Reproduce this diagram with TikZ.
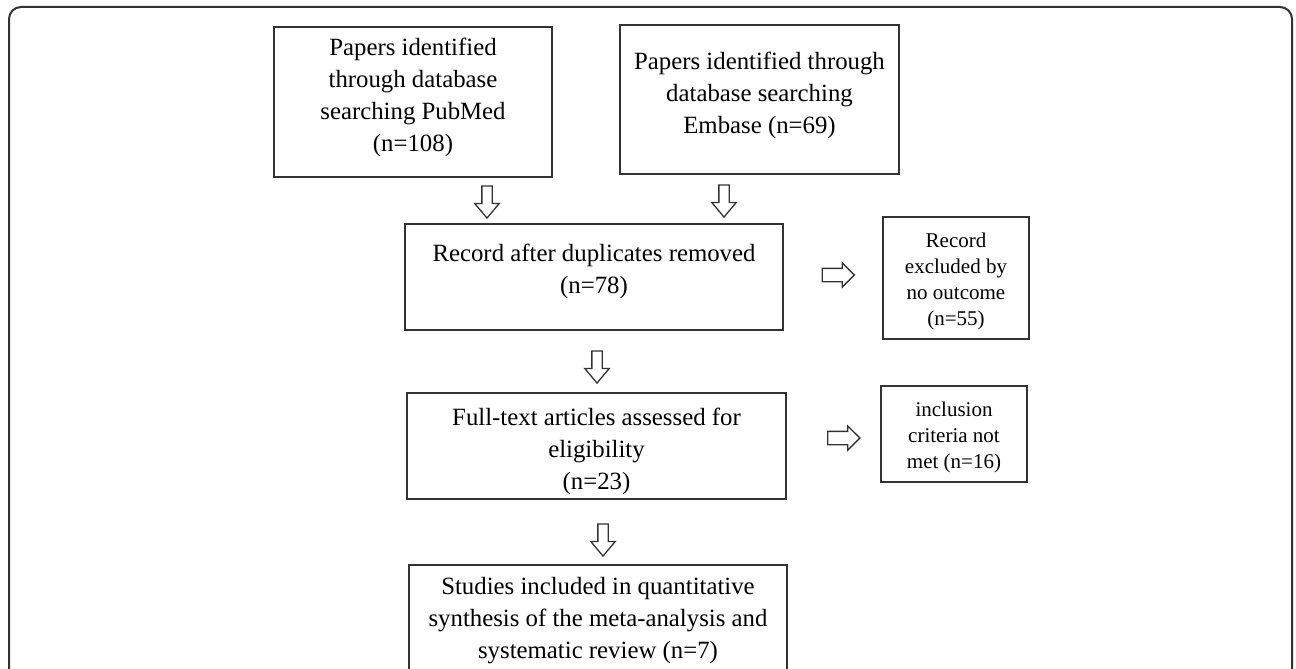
\documentclass[tikz,border=0pt]{standalone}
\usepackage{fontspec}
\setmainfont{Liberation Serif}
\usetikzlibrary{shapes.arrows}
\newcommand{\mainsize}{\fontsize{24.8}{32}\selectfont}
\newcommand{\sidesize}{\fontsize{21}{26}\selectfont}

\begin{document}
\begin{tikzpicture}[
	x=1pt, y=-1pt,
	box/.style={
		draw=black!80, line width=1.4pt, rectangle, inner sep=0pt
	},
	txt/.style={align=center, inner sep=0pt, font=\mainsize},
	sidetxt/.style={txt, font=\sidesize},
	hollow/.style={
		draw=black!80, line width=1.3pt, single arrow,
		minimum height=32pt, minimum width=23pt
	},
	darr/.style={hollow, shape border rotate=270, inner sep=4.5pt,
		single arrow head extend=7pt, single arrow tip angle=80},
	rarr/.style={hollow, inner sep=6pt, single arrow head extend=5.5pt}
	]
	\useasboundingbox (0,0) rectangle (1296,669);
	\clip (0,0) rectangle (1296,669);
	\draw[line width=2pt, black!80, rounded corners=12pt] (9,7) rectangle (1292,720);

	% boxes
	\node[box, minimum width=278pt, minimum height=150pt] (pubmed) at (413,102) {};
	\node[box, minimum width=279pt, minimum height=149pt] (embase) at (759.5,99.5) {};
	\node[box, minimum width=378pt, minimum height=106pt] (dedup) at (594,277) {};
	\node[box, minimum width=146pt, minimum height=122pt] (noout) at (956,278) {};
	\node[box, minimum width=379pt, minimum height=106pt] (fulltext) at (596.5,446) {};
	\node[box, minimum width=146pt, minimum height=96pt] (notmet) at (954,434) {};
	\node[box, minimum width=378pt, minimum height=107pt] (included) at (598,618.5) {};

	% texts
	\node[txt] (pubmed-t) at ([yshift=5pt]pubmed.center)
		{Papers identified\\through database\\searching PubMed\\(n=108)};
	\node[txt] (embase-t) at ([yshift=4pt]embase.center)
		{Papers identified through\\database searching\\Embase (n=69)};
	\node[txt] (dedup-t) at ([yshift=6pt]dedup.center)
		{Record after duplicates removed\\(n=78)};
	\node[sidetxt] (noout-t) at ([yshift=-3.5pt]noout.center)
		{Record\\excluded by\\no outcome\\(n=55)};
	\node[txt] (fulltext-t) at ([yshift=-5pt]fulltext.center)
		{Full-text articles assessed for\\eligibility\\(n=23)};
	\node[sidetxt] (notmet-t) at ([yshift=-3pt]notmet.center)
		{inclusion\\criteria not\\met (n=16)};
	\node[txt] (included-t) at ([yshift=-2pt]included.center)
		{Studies included in quantitative\\synthesis of the meta-analysis and\\systematic review (n=7)};

	% hollow arrows between the boxes
	\node[darr] (a1) at (487,199) {};
	\node[darr] (a2) at (724,198) {};
	\node[darr] (a3) at (597,364) {};
	\node[darr] (a4) at (603,537) {};
	\node[rarr] (r1) at (835,275) {};
	\node[rarr] (r2) at (840.5,438) {};
\end{tikzpicture}
\end{document}
